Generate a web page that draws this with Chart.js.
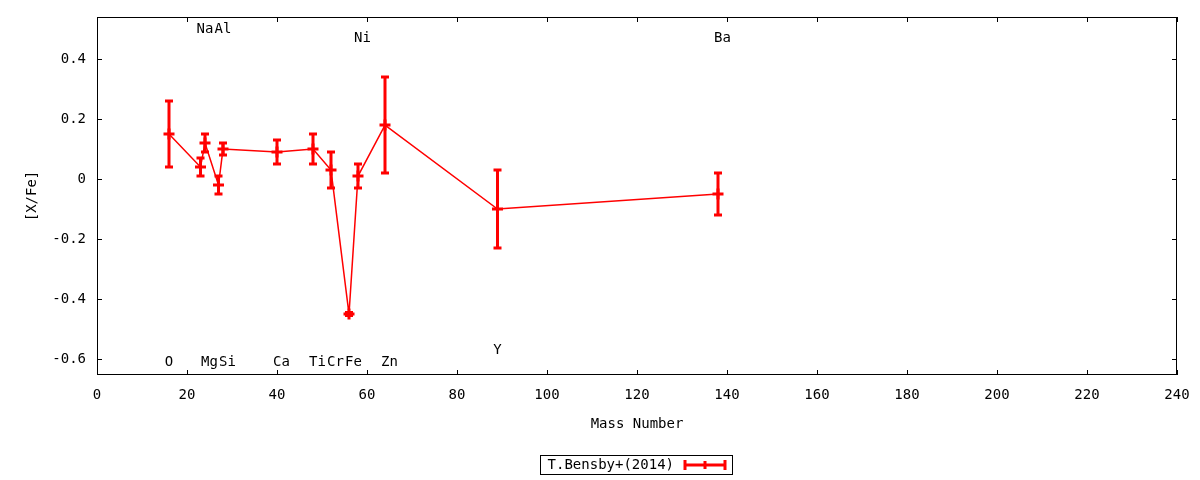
<!DOCTYPE html>
<html>
<head>
<meta charset="utf-8">
<script src="https://cdn.jsdelivr.net/npm/chart.js@4.4.1/dist/chart.umd.min.js"></script>
<style>
  html, body { margin: 0; background: #fff; }
  #wrap { width: 1200px; height: 480px; }
</style>
</head>
<body>
<div id="wrap"><canvas id="chart" width="1200" height="480"></canvas></div>
<script>
// abundance pattern, T.Bensby+(2014)
const elements   = ['O', 'Na', 'Mg', 'Al', 'Si', 'Ca', 'Ti', 'Cr', 'Fe', 'Ni', 'Zn', 'Y', 'Ba'];
const massNumber = [16, 23, 24, 27, 28, 40, 48, 52, 56, 58, 64, 89, 138];
const xFe        = [0.15, 0.04, 0.12, -0.02, 0.10, 0.09, 0.10, 0.03, -0.45, 0.01, 0.18, -0.10, -0.05];
const xFeErr     = [0.11, 0.03, 0.03, 0.03, 0.02, 0.04, 0.05, 0.06, 0.005, 0.04, 0.16, 0.13, 0.07];

// where the element names sit (data coordinates)
const labelX = [16, 24, 25, 28, 29, 41, 49, 53, 57, 59, 65, 89, 139];
const labelY = [-0.61, 0.50, -0.61, 0.50, -0.61, -0.61, -0.61, -0.61, -0.61, 0.47, -0.61, -0.57, 0.47];

const xTicks = [0, 20, 40, 60, 80, 100, 120, 140, 160, 180, 200, 220, 240];
const yTicks = [-0.6, -0.4, -0.2, 0, 0.2, 0.4];

const RED = '#ff0000';
const FONT = '14px "DejaVu Sans Mono"';

Chart.defaults.font.family = '"DejaVu Sans Mono"';
Chart.defaults.font.size = 14;
Chart.defaults.color = '#000';

// vertical error bars with caps
const errorBars = {
  id: 'errorBars',
  afterDatasetsDraw(chart) {
    const { ctx, scales: { x, y } } = chart;
    ctx.save();
    ctx.strokeStyle = RED;
    ctx.lineWidth = 3;
    massNumber.forEach((m, i) => {
      const px = x.getPixelForValue(m);
      const top = y.getPixelForValue(xFe[i] + xFeErr[i]);
      const bot = y.getPixelForValue(xFe[i] - xFeErr[i]);
      ctx.beginPath();
      ctx.moveTo(px, top); ctx.lineTo(px, bot);
      ctx.moveTo(px - 4, top); ctx.lineTo(px + 4, top);
      ctx.moveTo(px - 4, bot); ctx.lineTo(px + 4, bot);
      ctx.stroke();
    });
    ctx.restore();
  }
};

// frame, inward ticks on all four sides, element names, legend
const decorations = {
  id: 'decorations',
  afterDraw(chart) {
    const { ctx, chartArea: a, scales: { x, y } } = chart;
    ctx.save();
    ctx.strokeStyle = '#000';
    ctx.lineWidth = 1;
    ctx.strokeRect(a.left + 0.5, a.top + 0.5, a.right - a.left - 1, a.bottom - a.top - 1);

    ctx.beginPath();
    xTicks.forEach(v => {
      const px = Math.round(x.getPixelForValue(v)) + 0.5;
      ctx.moveTo(px, a.bottom); ctx.lineTo(px, a.bottom - 5);
      ctx.moveTo(px, a.top); ctx.lineTo(px, a.top + 5);
    });
    yTicks.forEach(v => {
      const py = Math.round(y.getPixelForValue(v)) + 0.5;
      ctx.moveTo(a.left, py); ctx.lineTo(a.left + 5, py);
      ctx.moveTo(a.right, py); ctx.lineTo(a.right - 5, py);
    });
    ctx.stroke();

    ctx.fillStyle = '#000';
    ctx.font = FONT;
    ctx.textAlign = 'center';
    ctx.textBaseline = 'middle';
    elements.forEach((el, i) => {
      ctx.fillText(el, x.getPixelForValue(labelX[i]), y.getPixelForValue(labelY[i]));
    });

    // legend
    const lx = 540, ly = 455, lw = 192, lh = 19;
    ctx.strokeRect(lx + 0.5, ly + 0.5, lw, lh);
    ctx.textAlign = 'right';
    ctx.fillText(chart.data.datasets[0].label, 674, ly + lh / 2 + 1);
    ctx.strokeStyle = RED;
    ctx.lineWidth = 3;
    ctx.beginPath();
    ctx.moveTo(684, 465); ctx.lineTo(726, 465);
    ctx.moveTo(685, 460); ctx.lineTo(685, 470);
    ctx.moveTo(725, 460); ctx.lineTo(725, 470);
    ctx.moveTo(705, 461); ctx.lineTo(705, 469);
    ctx.stroke();
    ctx.restore();
  }
};

new Chart(document.getElementById('chart'), {
  type: 'line',
  data: {
    datasets: [{
      label: 'T.Bensby+(2014)',
      data: massNumber.map((m, i) => ({ x: m, y: xFe[i] })),
      borderColor: RED,
      borderWidth: 1.5,
      pointStyle: 'cross',
      pointRadius: 5.5,
      pointBorderWidth: 3,
      pointBorderColor: RED,
      tension: 0
    }]
  },
  options: {
    responsive: false,
    animation: false,
    devicePixelRatio: 1,
    layout: { padding: { left: 0, right: 23, top: 17, bottom: 0 } },
    plugins: { legend: { display: false }, tooltip: { enabled: false } },
    scales: {
      x: {
        type: 'linear',
        min: 0,
        max: 240,
        afterBuildTicks: s => { s.ticks = xTicks.map(v => ({ value: v })); },
        afterFit: s => { s.height = 105; s.paddingLeft = 0; s.paddingRight = 0; },
        grid: { display: false, drawTicks: false },
        border: { display: false },
        ticks: { padding: 12, maxRotation: 0, autoSkip: false },
        title: { display: true, text: 'Mass Number', padding: { top: 0, bottom: 47 } }
      },
      y: {
        type: 'linear',
        min: -0.653,
        max: 0.54,
        afterBuildTicks: s => { s.ticks = yTicks.map(v => ({ value: v })); },
        afterFit: s => { s.width = 97; s.paddingTop = 0; s.paddingBottom = 0; },
        grid: { display: false, drawTicks: false },
        border: { display: false },
        ticks: { padding: 11, callback: v => String(Number(v.toFixed(1))) },
        title: { display: true, text: '[X/Fe]', padding: { top: 24, bottom: 0 } }
      }
    }
  },
  plugins: [errorBars, decorations]
});
</script>
</body>
</html>
